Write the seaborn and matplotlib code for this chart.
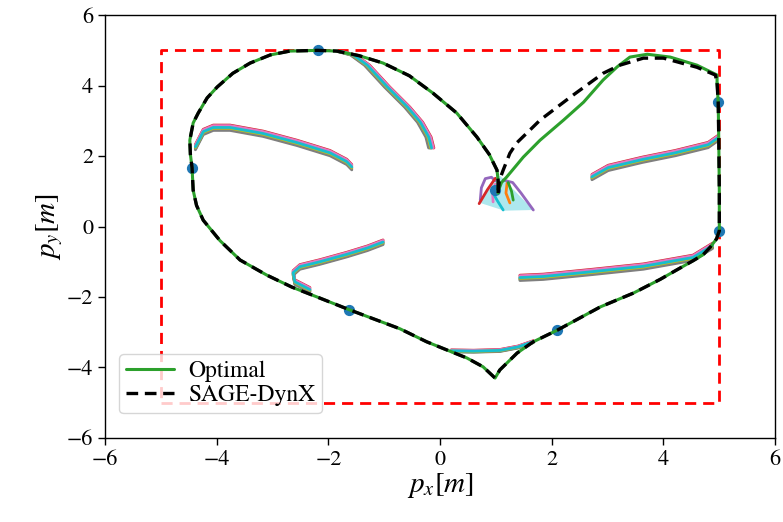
import numpy as np
import matplotlib
matplotlib.use("Agg")
import matplotlib.pyplot as plt
import seaborn as sns

# --- heart path shared by both methods (right edge -> bottom -> left lobe -> notch)
shared_x = [4.96, 4.97, 4.98, 4.99, 5.00, 5.00, 4.95, 4.84, 4.71, 4.53, 4.25, 3.94, 3.46,
            2.87, 2.10, 1.67, 1.38, 1.07, 0.985, 0.77, 0.48, 0.18, -0.24, -0.72, -1.61,
            -2.20, -2.65, -3.10, -3.58, -3.94, -4.24, -4.36, -4.42, -4.44, -4.47, -4.48,
            -4.42, -4.33, -4.17, -3.99, -3.71, -3.40, -3.04, -2.69, -2.19, -1.85, -1.45,
            -1.02, -0.55, -0.13, 0.30, 0.66, 0.88, 1.02, 1.04, 1.04]
shared_y = [4.07, 3.80, 3.53, 2.50, 1.00, -0.12, -0.35, -0.58, -0.80, -0.97, -1.22, -1.50,
            -1.89, -2.28, -2.94, -3.27, -3.59, -4.07, -4.30, -3.98, -3.73, -3.54, -3.27,
            -2.90, -2.37, -2.00, -1.72, -1.38, -0.95, -0.40, 0.18, 0.60, 1.03, 1.67, 2.05,
            2.45, 2.94, 3.22, 3.65, 3.96, 4.35, 4.64, 4.87, 4.98, 5.00, 4.98, 4.85, 4.64,
            4.28, 3.79, 3.22, 2.54, 2.05, 1.60, 1.30, 0.95]

# --- upper right segment where the two differ
opt_x = [1.04, 1.10, 1.19, 1.49, 1.79, 2.21, 2.57, 2.92, 3.17, 3.40, 3.71, 4.12, 4.60, 4.96, 4.96]
opt_y = [1.00, 1.25, 1.40, 1.97, 2.45, 3.02, 3.53, 4.16, 4.53, 4.81, 4.89, 4.81, 4.58, 4.30, 4.07]
sage_x = [1.04, 1.06, 1.13, 1.25, 1.37, 1.61, 1.79, 2.33, 2.92, 3.22, 3.64, 4.00, 4.60, 4.93, 4.96]
sage_y = [0.95, 1.30, 1.60, 2.08, 2.37, 2.74, 3.02, 3.67, 4.35, 4.58, 4.78, 4.78, 4.52, 4.30, 4.07]

# --- waypoints
wp_x = [-2.19, -4.44, -1.63, 2.10, 5.00, 4.98, 0.98]
wp_y = [5.00, 1.67, -2.37, -2.94, -0.12, 3.53, 1.03]

# --- sampled trajectory bundles (base path of each bundle)
top_x = [-1.80, -1.56, -1.31, -0.95, -0.59, -0.36, -0.21, -0.16]
top_y = [4.97, 4.87, 4.58, 3.96, 3.39, 2.96, 2.54, 2.23]
lup_x = [-4.38, -4.24, -4.06, -3.76, -3.17, -2.56, -1.97, -1.67, -1.58]
lup_y = [2.25, 2.68, 2.80, 2.80, 2.63, 2.37, 2.08, 1.83, 1.68]
llow_x = [-2.33, -2.60, -2.63, -2.51, -2.15, -1.67, -1.30, -1.02]
llow_y = [-1.80, -1.58, -1.32, -1.15, -1.01, -0.80, -0.62, -0.45]
rup_x = [4.98, 4.80, 4.21, 3.62, 3.01, 2.72]
rup_y = [2.51, 2.31, 2.08, 1.89, 1.66, 1.40]
rlow_x = [4.88, 4.53, 3.64, 2.74, 1.85, 1.43]
rlow_y = [-0.55, -0.89, -1.14, -1.29, -1.43, -1.46]
bot_x = [0.20, 0.60, 1.07, 1.40, 1.67]
bot_y = [-3.53, -3.54, -3.52, -3.42, -3.27]

# relative spread of the 10 samples around each base path
spread = [0.0, 0.6, -0.6, 1.0, 0.3, -0.3, 0.8, -0.9, -0.15, 0.15]

# --- messy cluster around the notch
cluster = [
    ([0.72, 0.74, 0.81, 0.92, 0.99], [0.75, 1.10, 1.36, 1.40, 1.30], 4),
    ([0.70, 0.85, 0.99], [0.65, 1.05, 1.37], 3),
    ([0.95, 0.94, 0.99], [0.70, 1.00, 1.20], 6),
    ([1.13, 1.02, 0.95, 0.98], [0.47, 0.75, 0.95, 1.10], 9),
    ([1.25, 1.18, 1.20], [0.67, 0.95, 1.23], 1),
    ([1.13, 1.30, 1.45, 1.67], [1.32, 1.25, 0.95, 0.47], 4),
    ([1.31, 1.28, 1.22], [0.75, 1.00, 1.25], 2),
]
fill_x = [0.68, 1.07, 1.67, 1.15]
fill_y = [0.69, 1.45, 0.47, 0.45]

sns.set_style("ticks")
plt.rcParams["font.family"] = ["STIXGeneral", "Liberation Serif", "DejaVu Serif"]
plt.rcParams["mathtext.fontset"] = "stix"
plt.rcParams["xtick.direction"] = "out"
plt.rcParams["ytick.direction"] = "out"
for key in ["text.color", "axes.labelcolor", "xtick.color", "ytick.color", "axes.edgecolor"]:
    plt.rcParams[key] = "black"

pal = sns.color_palette("tab10")

fig = plt.figure(figsize=(7.83, 5.22), dpi=100)
ax = fig.add_axes([0.134, 0.161, 0.856, 0.810])

# bounding box
ax.plot([-5, 5, 5, -5, -5], [-5, -5, 5, 5, -5], color="red", ls="--", lw=2, dashes=(4, 2.5), zorder=1)

# bundles: (x, y, shift axis, width in data units)
bundles = [(top_x, top_y, "x", 0.05), (lup_x, lup_y, "y", 0.08), (llow_x, llow_y, "y", 0.07),
           (rup_x, rup_y, "y", 0.08), (rlow_x, rlow_y, "y", 0.08), (bot_x, bot_y, "y", 0.03)]
for bx, by, axis, w in bundles:
    bx = np.array(bx)
    by = np.array(by)
    for i, s in enumerate(spread):
        if axis == "x":
            sns.lineplot(x=bx + s * w, y=by, sort=False, estimator=None, color=pal[i], lw=2, ax=ax, zorder=2)
        else:
            sns.lineplot(x=bx, y=by + s * w, sort=False, estimator=None, color=pal[i], lw=2, ax=ax, zorder=2)

ax.fill(fill_x, fill_y, color=pal[9], alpha=0.35, lw=0, zorder=2)
for cx, cy, ci in cluster:
    ax.plot(cx, cy, color=pal[ci], lw=2, zorder=2)

# waypoints
ax.scatter(wp_x, wp_y, s=50, color=pal[0], zorder=3)

# optimal
ax.plot(shared_x, shared_y, color=pal[2], lw=2.2, zorder=4)
ax.plot(opt_x, opt_y, color=pal[2], lw=2.2, zorder=4, label="Optimal")
# SAGE-DynX
ax.plot(shared_x, shared_y, color="black", lw=2.4, dashes=(3.5, 2), zorder=5)
ax.plot(sage_x, sage_y, color="black", lw=2.4, dashes=(3.5, 2), zorder=5, label="SAGE-DynX")

ax.set_xlim(-6, 6)
ax.set_ylim(-6, 6)
ax.set_xticks([-6, -4, -2, 0, 2, 4, 6])
ax.set_yticks([-6, -4, -2, 0, 2, 4, 6])
ax.tick_params(labelsize=16, length=5, width=1)
ax.set_xlabel(r"$p_x[m]$", fontsize=21, labelpad=1)
ax.set_ylabel(r"$p_y[m]$", fontsize=21, labelpad=1)
for sp in ax.spines.values():
    sp.set_linewidth(1)

ax.legend(loc="lower left", bbox_to_anchor=(0.004, 0.03), fontsize=17, framealpha=0.8,
          handlelength=2.0, borderpad=0.3, labelspacing=0.1, handletextpad=0.6)

fig.savefig("out.png", dpi=100)
